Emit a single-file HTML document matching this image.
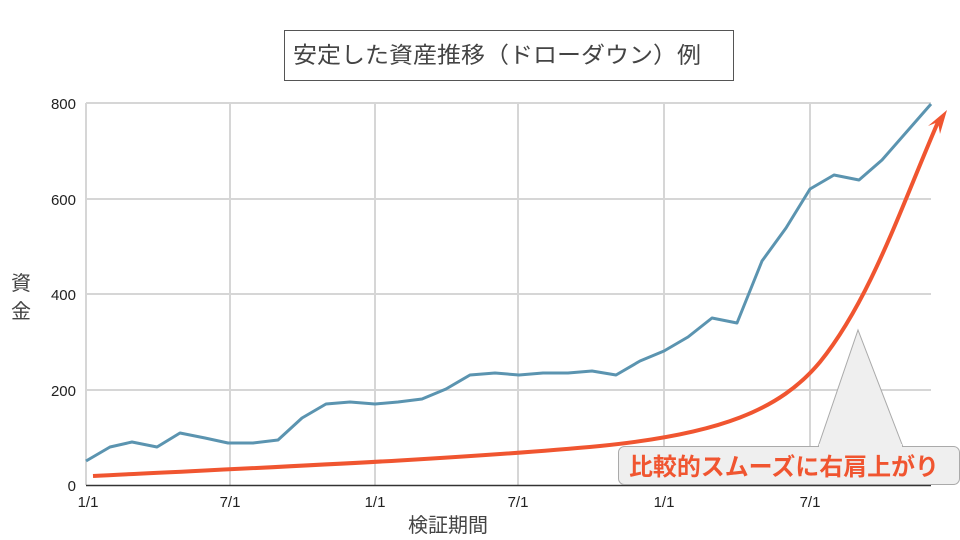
<!DOCTYPE html>
<html><head><meta charset="utf-8"><style>
html,body{margin:0;padding:0;background:#fff;}
svg{display:block;font-family:"Liberation Sans","Noto Sans CJK JP",sans-serif;}
</style></head><body>
<svg width="960" height="540" viewBox="0 0 960 540" xmlns="http://www.w3.org/2000/svg">
<rect x="0" y="0" width="960" height="540" fill="#fff"/>
<rect x="284.5" y="30.5" width="449" height="50" fill="#fff" stroke="#555" stroke-width="1"/>
<text x="293" y="63" font-size="22.5" fill="#444" textLength="408" lengthAdjust="spacingAndGlyphs">安定した資産推移（ドローダウン）例</text>
<g stroke="#d6d6d6" stroke-width="2">
<line x1="86" y1="103" x2="931" y2="103"/>
<line x1="86" y1="199" x2="931" y2="199"/>
<line x1="86" y1="294" x2="931" y2="294"/>
<line x1="86" y1="390" x2="931" y2="390"/>
<line x1="86" y1="103" x2="86" y2="485"/>
<line x1="230" y1="103" x2="230" y2="485"/>
<line x1="375" y1="103" x2="375" y2="485"/>
<line x1="518" y1="103" x2="518" y2="485"/>
<line x1="664" y1="103" x2="664" y2="485"/>
<line x1="810" y1="103" x2="810" y2="485"/>
</g>
<line x1="86" y1="485.5" x2="931" y2="485.5" stroke="#333" stroke-width="1.5"/>
<g font-size="15" fill="#222" text-anchor="end">
<text x="76" y="109">800</text><text x="76" y="205">600</text><text x="76" y="300">400</text><text x="76" y="396">200</text><text x="76" y="491">0</text>
</g>
<g font-size="15" fill="#222" text-anchor="middle">
<text x="88" y="507">1/1</text><text x="230" y="507">7/1</text><text x="375" y="507">1/1</text><text x="518" y="507">7/1</text><text x="664" y="507">1/1</text><text x="810" y="507">7/1</text>
</g>
<text x="448" y="532" font-size="20" fill="#444" text-anchor="middle">検証期間</text>
<text x="21" y="290" font-size="20" fill="#444" text-anchor="middle">資</text>
<text x="21" y="318" font-size="20" fill="#444" text-anchor="middle">金</text>
<polyline fill="none" stroke="#5b94b0" stroke-width="3" stroke-linejoin="round" points="86,461 110,447 132,442 157,447 180,433 205,438 228,443 253,443 278,440 302,418 326,404 350,402 375,404 398,402 422,399 446,389 470,375 495,373 519,375 543,373 568,373 592,371 616,375 640,361 664,351 688,337 712,318 737,323 762,261 786,228 810,189 834,175 859,180 882,160 931,104"/>
<path d="M93,476 C250,468 450,460 600,446 C720,434 780,410 820,362 C870,300 900,210 938,122" fill="none" stroke="#f05530" stroke-width="4"/>
<polygon points="947,110 928,126 938,122 940,134" fill="#f05530"/>
<polygon points="818,447 858,330 903,447" fill="#efefef" stroke="#aaa" stroke-width="1"/>
<rect x="618.5" y="446.5" width="341" height="38" rx="6" fill="#efefef" stroke="#aaa" stroke-width="1"/>
<rect x="819" y="444" width="83" height="4" fill="#efefef"/>
<text x="629" y="475" font-size="24" font-weight="bold" fill="#f05530" textLength="310" lengthAdjust="spacingAndGlyphs">比較的スムーズに右肩上がり</text>
</svg>
</body></html>
